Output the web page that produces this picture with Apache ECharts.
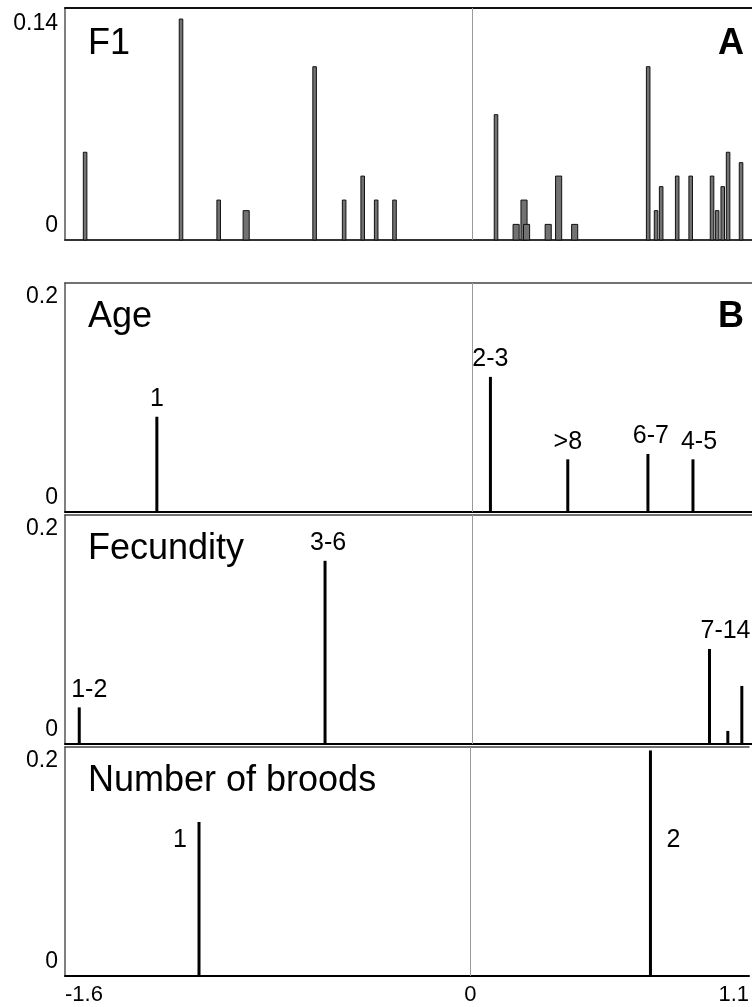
<!DOCTYPE html>
<html><head><meta charset="utf-8">
<script src="https://cdn.jsdelivr.net/npm/echarts@6/dist/echarts.min.js"></script>
<style>html,body{margin:0;padding:0;background:#fff}#c{width:752px;height:1007px}</style>
</head><body><div id="c"></div>
<script>
// ---------------- data ----------------
const xTickValues = [-1.6, 0, 1.1];
const xTickLabels = ['-1.6', '0', '1.1'];

// Panel A: F1 loadings (x position, bar height, bar width in axis units)
const f1X      = [-1.521, -1.144, -0.996, -0.888, -0.619, -0.503, -0.430, -0.377, -0.305,
                   0.094, 0.173, 0.204, 0.214, 0.299, 0.340, 0.403,
                   0.692, 0.723, 0.743, 0.806, 0.859, 0.943, 0.963, 0.985, 1.006, 1.057];
const f1Values = [0.0556, 0.140, 0.0253, 0.0186, 0.1098, 0.0253, 0.0405, 0.0253, 0.0253,
                  0.0794, 0.0099, 0.0253, 0.0099, 0.0099, 0.0405, 0.0099,
                  0.1098, 0.0186, 0.0338, 0.0405, 0.0405, 0.0405, 0.0186, 0.0338, 0.0556, 0.049];
const f1Widths = [0.014, 0.014, 0.014, 0.024, 0.014, 0.014, 0.014, 0.014, 0.014,
                  0.014, 0.024, 0.024, 0.024, 0.024, 0.024, 0.024,
                  0.014, 0.014, 0.014, 0.014, 0.014, 0.014, 0.014, 0.014, 0.014, 0.014];

// Panel B: Age
const ageX      = [-1.239, 0.072, 0.376, 0.691, 0.868];
const ageValues = [0.0832, 0.118, 0.046, 0.0507, 0.046];
const ageLabels = ['1', '2-3', '>8', '6-7', '4-5'];

// Panel C: Fecundity
const fecX      = [-1.544, -0.578, 0.933, 1.005, 1.060];
const fecValues = [0.032, 0.160, 0.083, 0.0114, 0.0507];
const fecLabels = ['1-2', '3-6', '7-14', '', ''];

// Panel D: Number of broods
const broodX      = [-1.071, 0.711];
const broodValues = [0.1345, 0.197];
const broodLabels = ['1', '2'];

const panelTitles  = ['F1', 'Age', 'Fecundity', 'Number of broods'];
const panelLetters = ['A', 'B', '', ''];
const yMaxValues   = [0.147, 0.2, 0.2, 0.2];
const yTopLabels   = ['0.14', '0.2', '0.2', '0.2'];
const yBottomLabel = '0';

// ---------------- layout / style ----------------
const FONT = '"Liberation Sans", Arial, Helvetica, sans-serif';
const grids = [
  {left: 65, width: 687, top: 8,   height: 232},
  {left: 65, width: 687, top: 283, height: 229},
  {left: 65, width: 687, top: 515, height: 229},
  {left: 65, width: 687, top: 747, height: 229}
];
const ageLabelDx   = [0, 0, 0, 3, 6];
const fecLabelDx   = [10, 3, 16, 0, 0];
const broodLabelSide = ['left', 'right'];
const broodLabelLevel = 0.119;

const chart = echarts.init(document.getElementById('c'), null, {renderer: 'canvas'});

function barItem(params, api) {
  const x = api.value(0), v = api.value(1), w = api.value(2);
  const a = api.coord([x - w / 2, v]);
  const b = api.coord([x + w / 2, 0]);
  return {type: 'rect',
    shape: {x: a[0], y: a[1], width: b[0] - a[0], height: b[1] - a[1]},
    style: {fill: '#727272', stroke: '#111', lineWidth: 1}};
}

function stemRenderer(labels, dxs, mode) {
  return function (params, api) {
    const x = api.value(0), v = api.value(1);
    const top = api.coord([x, v]), base = api.coord([x, 0]);
    const children = [{type: 'rect',
      shape: {x: top[0] - 1.5, y: top[1], width: 3, height: base[1] - top[1]},
      style: {fill: '#000'}}];
    const lab = labels[params.dataIndex];
    if (lab) {
      if (mode === 'top') {
        children.push({type: 'text', x: top[0] + (dxs[params.dataIndex] || 0), y: top[1] - 5,
          style: {text: lab, font: '25px ' + FONT, fill: '#000', align: 'center', verticalAlign: 'bottom'}});
      } else {
        const side = broodLabelSide[params.dataIndex];
        const p = api.coord([x, broodLabelLevel]);
        children.push({type: 'text', x: side === 'left' ? p[0] - 12 : p[0] + 16, y: p[1],
          style: {text: lab, font: '25px ' + FONT, fill: '#000',
                  align: side === 'left' ? 'right' : 'left', verticalAlign: 'middle'}});
      }
    }
    return {type: 'group', children: children};
  };
}

const zeroLine = {
  silent: true, symbol: 'none', label: {show: false},
  lineStyle: {color: '#9a9a9a', width: 1, type: 'solid'},
  data: [{xAxis: 0}]
};

const xAxes = [];
grids.forEach((g, i) => {
  xAxes.push({
    type: 'value', gridIndex: i, min: -1.6, max: 1.1, position: 'bottom',
    axisLine: {show: true, onZero: false, lineStyle: {color: i === 0 ? '#333' : '#000', width: 2}},
    axisTick: {show: false},
    splitLine: {show: false},
    axisLabel: i === 3 ? {
      show: true, customValues: xTickValues, margin: 8,
      fontSize: 22, fontFamily: FONT, color: '#000',
      alignMinLabel: 'left', alignMaxLabel: 'right',
      formatter: v => { const k = xTickValues.findIndex(t => Math.abs(t - v) < 1e-9); return k >= 0 ? xTickLabels[k] : ''; }
    } : {show: false}
  });
});
// top frame lines of each panel
grids.forEach((g, i) => {
  xAxes.push({
    type: 'value', gridIndex: i, min: -1.6, max: 1.1, position: 'top',
    axisLine: {show: true, onZero: false, lineStyle: {color: i === 0 ? '#111' : '#444', width: i === 0 ? 2 : 1.5}},
    axisTick: {show: false}, splitLine: {show: false}, axisLabel: {show: false}
  });
});

const yAxes = grids.map((g, i) => ({
  type: 'value', gridIndex: i, min: 0, max: yMaxValues[i], interval: yMaxValues[i], position: 'left',
  axisLine: {show: true, onZero: false, lineStyle: {color: '#555', width: 1.5}},
  axisTick: {show: false},
  splitLine: {show: false},
  axisLabel: {
    show: true, margin: 7, fontSize: 23, fontFamily: FONT, color: '#000',
    formatter: v => v === 0 ? '{lo|' + yBottomLabel + '}' : '{hi|' + yTopLabels[i] + '}',
    rich: {
      lo: {fontSize: 23, fontFamily: FONT, color: '#000', padding: [0, 0, 28, 0]},
      hi: {fontSize: 23, fontFamily: FONT, color: '#000', padding: [i === 0 ? 32 : 28, 0, 0, 0]}
    }
  }
}));

const titles = [];
grids.forEach((g, i) => {
  titles.push({text: panelTitles[i], left: 88, top: g.top + (i === 0 ? 18 : 16), padding: 0,
    textStyle: {fontSize: 36, fontWeight: 'normal', fontFamily: FONT, color: '#000'}});
  if (panelLetters[i]) {
    titles.push({text: panelLetters[i], right: 8, top: g.top + (i === 0 ? 18 : 16), padding: 0,
      textStyle: {fontSize: 36, fontWeight: 'bold', fontFamily: FONT, color: '#000'}});
  }
});

const option = {
  animation: false,
  backgroundColor: '#fff',
  title: titles,
  grid: grids.map(g => Object.assign({show: false}, g)),
  xAxis: xAxes,
  yAxis: yAxes,
  series: [
    {type: 'custom', xAxisIndex: 0, yAxisIndex: 0, renderItem: barItem, clip: false,
     encode: {x: 0, y: 1}, data: f1X.map((x, k) => [x, f1Values[k], f1Widths[k]]), markLine: zeroLine, z: 3},
    {type: 'custom', xAxisIndex: 1, yAxisIndex: 1, renderItem: stemRenderer(ageLabels, ageLabelDx, 'top'),
     encode: {x: 0, y: 1}, data: ageX.map((x, k) => [x, ageValues[k]]), markLine: zeroLine, z: 3},
    {type: 'custom', xAxisIndex: 2, yAxisIndex: 2, renderItem: stemRenderer(fecLabels, fecLabelDx, 'top'),
     encode: {x: 0, y: 1}, data: fecX.map((x, k) => [x, fecValues[k]]), markLine: zeroLine, z: 3},
    {type: 'custom', xAxisIndex: 3, yAxisIndex: 3, renderItem: stemRenderer(broodLabels, [], 'side'),
     encode: {x: 0, y: 1}, data: broodX.map((x, k) => [x, broodValues[k]]), markLine: zeroLine, z: 3}
  ]
};
chart.setOption(option);
</script>
</body></html>
